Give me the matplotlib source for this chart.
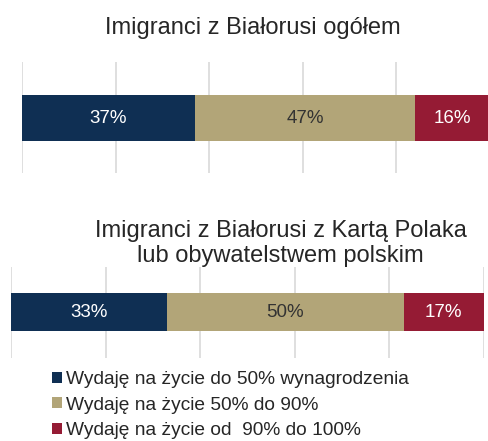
import matplotlib.pyplot as plt
from matplotlib.patches import Patch

plt.rcParams['font.family'] = ['Liberation Sans', 'DejaVu Sans']

# dane
groups = ['Imigranci z Białorusi ogółem',
          'Imigranci z Białorusi z Kartą Polaka\nlub obywatelstwem polskim']
categories = ['Wydaję na życie do 50% wynagrodzenia',
              'Wydaję na życie 50% do 90%',
              'Wydaję na życie od  90% do 100%']
values_all = [37, 47, 16]
values_kp = [33, 50, 17]
colors = ['#0F2F53', '#B2A578', '#951B34']
label_colors = ['white', '#333333', 'white']

W, H = 488, 441
fig = plt.figure(figsize=(W / 100, H / 100), dpi=100)
fig.patch.set_facecolor('white')


def px_axes(x0, y0, x1, y1):
    return fig.add_axes([x0 / W, (H - y1) / H, (x1 - x0) / W, (y1 - y0) / H])


def draw_bar(ax, vals, yc, h):
    left = 0
    for v, c, tc in zip(vals, colors, label_colors):
        ax.barh(yc, v, left=left, height=h, color=c, zorder=2)
        ax.text(left + v / 2, yc, f'{v}%', ha='center', va='center',
                fontsize=13.5, color=tc, zorder=3)
        left += v
    ax.set_xlim(0, 100)
    ax.set_ylim(0, 1)
    for g in range(0, 101, 20):
        ax.axvline(g, color='#D9D9D9', lw=1.2, zorder=1)
    ax.axis('off')


ax1 = px_axes(22, 62, 490, 173)
draw_bar(ax1, values_all, 0.495, 0.414)

ax2 = px_axes(11, 267, 484, 358)
draw_bar(ax2, values_kp, 0.505, 0.418)

# tytuły
fig.text(253 / W, 1 - 34 / H, groups[0], ha='center', va='baseline',
         fontsize=17, color='#262626')
line1, line2 = groups[1].split('\n')
fig.text(281 / W, 1 - 237 / H, line1, ha='center', va='baseline',
         fontsize=17, color='#262626')
fig.text(280 / W, 1 - 262 / H, line2, ha='center', va='baseline',
         fontsize=17, color='#262626')

handles = [Patch(facecolor=c) for c in colors]
fig.legend(handles, categories, loc='upper left',
           bbox_to_anchor=(52 / W, 1 - 371 / H), frameon=False,
           fontsize=13.8, handlelength=0.52, handleheight=0.52,
           handletextpad=0.2, labelspacing=0.45, borderpad=0,
           borderaxespad=0, labelcolor='#262626')

fig.savefig('out.png', dpi=100)
